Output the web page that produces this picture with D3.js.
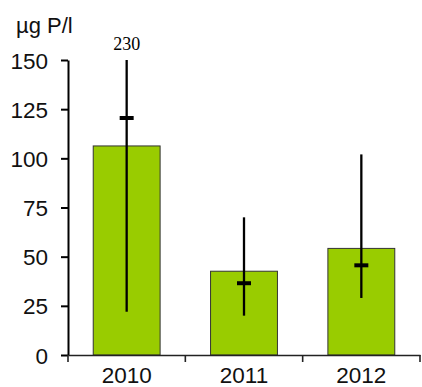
<!DOCTYPE html>
<html>
<head>
<meta charset="utf-8">
<style>
  body { margin: 0; background: #fff; }
  svg text { font-family: "Liberation Sans", Arial, sans-serif; }
</style>
</head>
<body>
<div id="chart"></div>
<script src="https://cdn.jsdelivr.net/npm/d3@7"></script>
<script>
// data
var years   = ['2010', '2011', '2012'];
var means   = [106.3, 42.6, 54.2];   // bar height
var medians = [120.5, 36.5, 45.6];   // thick marker
var lows    = [22, 20, 29];
var highs   = [230, 70, 102];        // 2010 runs off the top, labelled
var yTicks  = [0, 25, 50, 75, 100, 125, 150];
var yMax    = 150;

var W = 422, H = 387;
var mLeft = 68, mRight = 420, mTop = 60, mBottom = 355;

var svg = d3.select('#chart').append('svg')
  .attr('width', W).attr('height', H);

var x = d3.scaleBand().domain(years).range([mLeft, mRight])
  .paddingInner(0.43).paddingOuter(0.215);
var y = d3.scaleLinear().domain([0, yMax]).range([mBottom, mTop]);

// bars
svg.selectAll('.bar')
  .data(years)
  .enter().append('rect')
  .attr('class', 'bar')
  .attr('x', function(d){ return x(d); })
  .attr('y', function(d, i){ return y(means[i]); })
  .attr('width', x.bandwidth())
  .attr('height', function(d, i){ return y(0) - y(means[i]); })
  .attr('fill', '#99cc00')
  .attr('stroke', '#333')
  .attr('stroke-width', 1);

// whiskers
svg.selectAll('.whisk')
  .data(years)
  .enter().append('line')
  .attr('class', 'whisk')
  .attr('x1', function(d){ return x(d) + x.bandwidth() / 2; })
  .attr('x2', function(d){ return x(d) + x.bandwidth() / 2; })
  .attr('y1', function(d, i){ return y(lows[i]); })
  .attr('y2', function(d, i){ return y(Math.min(highs[i], yMax)); })
  .attr('stroke', '#000')
  .attr('stroke-width', 2.3);

svg.selectAll('.med')
  .data(years)
  .enter().append('line')
  .attr('class', 'med')
  .attr('x1', function(d){ return x(d) + x.bandwidth() / 2 - 7; })
  .attr('x2', function(d){ return x(d) + x.bandwidth() / 2 + 7; })
  .attr('y1', function(d, i){ return y(medians[i]); })
  .attr('y2', function(d, i){ return y(medians[i]); })
  .attr('stroke', '#000')
  .attr('stroke-width', 4);

// off-scale value
svg.selectAll('.over')
  .data(years.filter(function(d, i){ return highs[i] > yMax; }))
  .enter().append('text')
  .attr('class', 'over')
  .attr('x', function(d){ return x(d) + x.bandwidth() / 2; })
  .attr('y', y(yMax) - 10)
  .attr('text-anchor', 'middle')
  .style('font-family', '"Liberation Serif", "Times New Roman", serif')
  .style('font-size', '18px')
  .text(function(d){ return highs[years.indexOf(d)]; });

// y axis
var ya = svg.append('g')
  .attr('transform', 'translate(' + mLeft + ',0)')
  .call(d3.axisLeft(y).tickValues(yTicks).tickSize(7).tickPadding(13).tickSizeOuter(0));
ya.select('.domain').attr('stroke', '#000').attr('stroke-width', 2);
ya.selectAll('.tick line').attr('stroke', '#000').attr('stroke-width', 2);
ya.selectAll('text').style('font-size', '22.5px').attr('fill', '#111').attr('dy', '0.36em');

// x axis
var xa = svg.append('g')
  .attr('transform', 'translate(0,' + mBottom + ')')
  .call(d3.axisBottom(x).tickSize(0).tickPadding(12).tickSizeOuter(0));
xa.select('.domain').attr('stroke', '#222').attr('stroke-width', 1.6);
xa.selectAll('text').style('font-size', '22.5px').attr('fill', '#111');

var bounds = d3.range(years.length + 1).map(function(i){ return mLeft + i * x.step(); });
xa.selectAll('.sep')
  .data(bounds)
  .enter().append('line')
  .attr('class', 'sep')
  .attr('x1', function(d){ return d; })
  .attr('x2', function(d){ return d; })
  .attr('y1', 0).attr('y2', 7)
  .attr('stroke', '#222').attr('stroke-width', 1.6);

// unit label
svg.append('text')
  .attr('x', 16).attr('y', 33)
  .style('font-size', '22px')
  .attr('fill', '#111')
  .text('µg P/l');
</script>
</body>
</html>
